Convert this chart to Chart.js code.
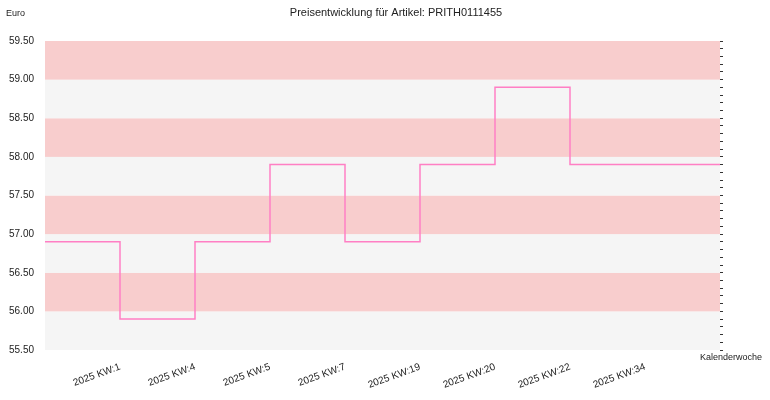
<!DOCTYPE html>
<html><head><meta charset="utf-8">
<script src="https://cdn.jsdelivr.net/npm/chart.js@4"></script>
<style>body{margin:0;background:#fff}</style>
</head><body><canvas id="c" width="770" height="400"></canvas>
<script>
var weeks = ["", "2025 KW:1", "2025 KW:4", "2025 KW:5", "2025 KW:7", "2025 KW:19", "2025 KW:20", "2025 KW:22", "2025 KW:34", ""];
var prices = [56.9, 56.9, 55.9, 56.9, 57.9, 56.9, 57.9, 58.9, 57.9, 57.9];
var bandColors = ["#f5f5f5", "#f8cdcd"];

var bandsAndText = {
    id: "bandsAndText",
    beforeDatasetsDraw: function (chart) {
        var ctx = chart.ctx, a = chart.chartArea, y = chart.scales.y;
        ctx.save();
        for (var v = 55.5, i = 0; v < 59.5; v += 0.5, i++) {
            ctx.fillStyle = bandColors[i % 2];
            var top = y.getPixelForValue(v + 0.5), bot = y.getPixelForValue(v);
            ctx.fillRect(a.left, top, a.right - a.left, bot - top);
        }
        ctx.restore();
    },
    afterDraw: function (chart) {
        var ctx = chart.ctx;
        ctx.save();
        ctx.fillStyle = "#222";
        ctx.font = "11px 'Liberation Sans', sans-serif";
        ctx.textAlign = "center";
        ctx.fillText("Preisentwicklung für Artikel: PRITH0111455", 396, 16);
        ctx.font = "9px 'Liberation Sans', sans-serif";
        ctx.textAlign = "left";
        ctx.fillText("Euro", 6, 16);
        ctx.fillText("Kalenderwoche", 700, 360);
        ctx.restore();
    }
};

new Chart(document.getElementById("c").getContext("2d"), {
    type: "line",
    data: {
        labels: weeks,
        datasets: [{
            data: prices,
            borderColor: "#ff7fc4",
            borderWidth: 1.5,
            stepped: "after",
            pointRadius: 0,
            fill: false
        }]
    },
    options: {
        responsive: false,
        animation: false,
        layout: { padding: { top: 41, left: 0, right: 0, bottom: 0 } },
        plugins: { legend: { display: false }, tooltip: { enabled: false } },
        scales: {
            x: {
                offset: false,
                grid: { display: false },
                border: { display: false },
                ticks: {
                    autoSkip: false, maxRotation: 20, minRotation: 20,
                    color: "#222", font: { size: 10, family: "Liberation Sans" },
                    callback: function (v, i) { return weeks[i]; }
                },
                afterFit: function (s) { s.height = 50; }
            },
            y: {
                min: 55.5, max: 59.5,
                grid: { display: false },
                border: { display: false },
                ticks: {
                    autoSkip: false,
                    stepSize: 0.5, color: "#222", font: { size: 10, family: "Liberation Sans" },
                    callback: function (v) { return v.toFixed(2); }
                },
                afterFit: function (s) { s.width = 45; }
            },
            y2: {
                position: "right",
                min: 55.5, max: 59.5,
                border: { display: false },
                grid: { drawOnChartArea: false, tickLength: 3, color: "#333" },
                ticks: { autoSkip: false, stepSize: 0.1, callback: function () { return ""; } },
                afterFit: function (s) { s.width = 50; }
            }
        }
    },
    plugins: [bandsAndText]
});
</script></body></html>
